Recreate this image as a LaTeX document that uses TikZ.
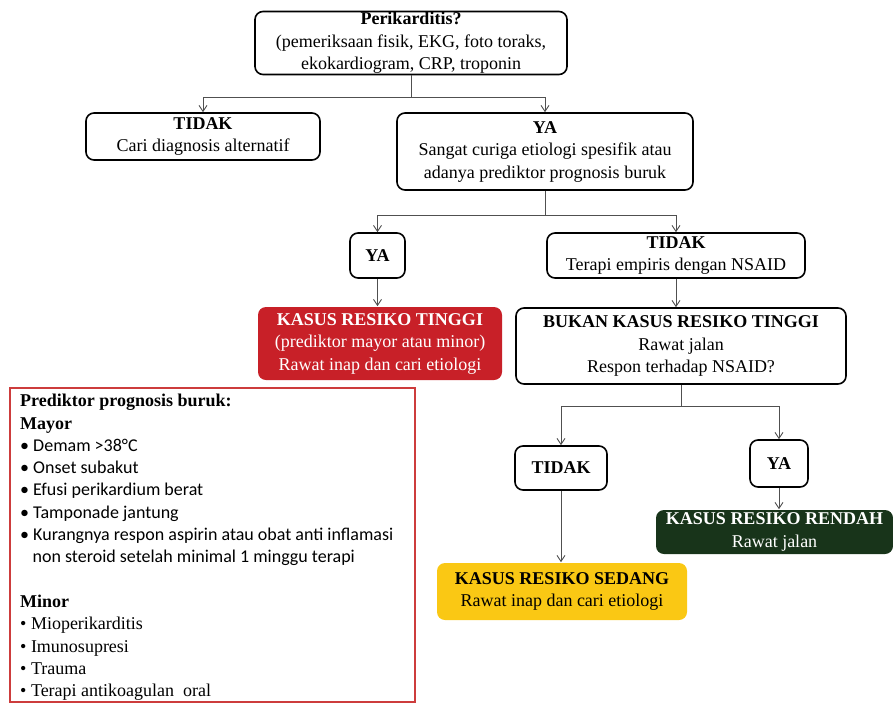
\documentclass[tikz,border=0pt]{standalone}
\usepackage{fontspec}
\setmainfont{Liberation Serif}
\newfontfamily\calibri{Carlito}
\usetikzlibrary{arrows.meta, positioning, calc}
\definecolor{boxred}{RGB}{200,32,40}
\definecolor{boxgreen}{RGB}{24,52,26}
\definecolor{boxyellow}{RGB}{250,200,20}
\definecolor{predred}{RGB}{205,60,60}
\definecolor{linegray}{RGB}{80,80,80}

\tikzset{
  flowbox/.style={draw=black, line width=1.6pt, rounded corners=8pt, fill=white,
    inner sep=0pt, align=center, font=\fontsize{18}{22.5}\selectfont},
  riskbox/.style={flowbox, draw=none},
  arr/.style={draw=linegray, line width=0.9pt, -{Straight Barb[length=6pt,width=8pt]}},
  lin/.style={draw=linegray, line width=0.9pt}
}

\begin{document}
\begin{tikzpicture}[x=1pt, y=-1pt]
  \useasboundingbox (0,0) rectangle (893,704);
  % question boxes
  \node[flowbox, minimum width=312pt, minimum height=63pt] (top) at (411,43)
    {\textbf{Perikarditis?}\\(pemeriksaan fisik, EKG, foto toraks,\\ekokardiogram, CRP, troponin};
  \node[flowbox, minimum width=234pt, minimum height=47pt] (tidak1) at (203,136.5)
    {\textbf{TIDAK}\\Cari diagnosis alternatif};
  \node[flowbox, minimum width=296pt, minimum height=77pt] (ya1) at (545,151.5)
    {\textbf{YA}\\Sangat curiga etiologi spesifik atau\\adanya prediktor prognosis buruk};
  \node[flowbox, minimum width=55pt, minimum height=45pt] (ya2) at (377.5,255.5) {\textbf{YA}};
  \node[flowbox, minimum width=258pt, minimum height=45pt] (tidak2) at (676,255.5)
    {\textbf{TIDAK}\\Terapi empiris dengan NSAID};
  \node[flowbox, minimum width=330pt, minimum height=76pt] (bukan) at (681,346)
    {\textbf{BUKAN KASUS RESIKO TINGGI}\\Rawat jalan\\Respon terhadap NSAID?};
  \node[flowbox, minimum width=92pt, minimum height=44pt] (tidak3) at (561,468) {\textbf{TIDAK}};
  \node[flowbox, minimum width=58pt, minimum height=47pt] (ya3) at (779,463.5) {\textbf{YA}};
  % risk boxes
  \node[riskbox, fill=boxred, text=white, minimum width=244pt, minimum height=73pt] (tinggi) at (380,343.5)
    {\textbf{KASUS RESIKO TINGGI}\\(prediktor mayor atau minor)\\Rawat inap dan cari etiologi};
  \node[riskbox, fill=boxgreen, text=white, minimum width=237pt, minimum height=44pt] (rendah) at (774.5,532)
    {\textbf{KASUS RESIKO RENDAH}\\Rawat jalan};
  \node[riskbox, fill=boxyellow, minimum width=250pt, minimum height=57pt] (sedang) at (562,591.5)
    {\textbf{KASUS RESIKO SEDANG}\\Rawat inap dan cari etiologi};

  % connectors
  \coordinate (j1) at ($(top.south)+(0,22)$);
  \draw[lin] (top.south) -- (j1);
  \draw[arr] (j1) -| (tidak1.north);
  \draw[arr] (j1) -| (ya1.north);
  \coordinate (j2) at ($(ya1.south)+(0,25)$);
  \draw[lin] (ya1.south) -- (j2);
  \draw[arr] (j2) -| (ya2.north);
  \draw[arr] (j2) -| (tidak2.north);
  \draw[arr] (ya2.south) -- (ya2.south |- tinggi.north);
  \draw[arr] (tidak2.south) -- (tidak2.south |- bukan.north);
  \coordinate (j3) at ($(bukan.south)+(0,22)$);
  \draw[lin] (bukan.south) -- (j3);
  \draw[arr] (j3) -| (tidak3.north);
  \draw[arr] (j3) -| (ya3.north);
  \draw[arr] (ya3) -- (ya3 |- rendah.north);
  \draw[arr] (tidak3) -- (tidak3 |- sedang.north);

  % predictor list
  \draw[predred, line width=1.8pt] (10,388) rectangle (415,702);
  \node[anchor=north west, align=left, inner sep=0pt, font=\fontsize{18}{22.3}\selectfont] (pred) at (20,394)
    {\textbf{Prediktor prognosis buruk:}\\
     \textbf{Mayor}\\
     {\calibri • Demam >38°C}\\
     {\calibri • Onset subakut}\\
     {\calibri • Efusi perikardium berat}\\
     {\calibri • Tamponade jantung}\\
     {\calibri • Kurangnya respon aspirin atau obat anti inflamasi}\\
     \hspace*{12.5pt}{\calibri non steroid setelah minimal 1 minggu terapi}\\
     \mbox{}\\
     \textbf{Minor}\\
     • Mioperikarditis\\
     • Imunosupresi\\
     • Trauma\\
     • Terapi antikoagulan\ \ oral};
\end{tikzpicture}
\end{document}
